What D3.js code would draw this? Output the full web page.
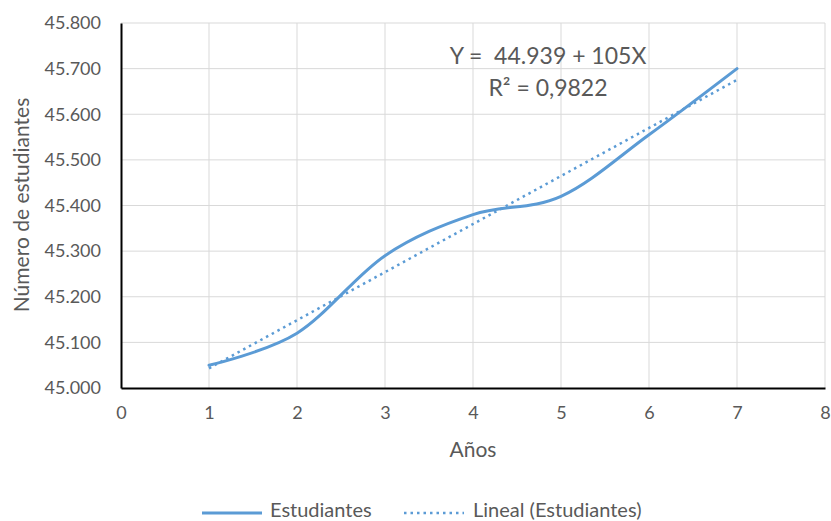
<!DOCTYPE html>
<html>
  <head>
    <meta charset="utf-8" />
    <title>Estudiantes</title>
    <script src="https://cdnjs.cloudflare.com/ajax/libs/d3/7.8.5/d3.min.js"></script>
    <style>
      body { margin: 0; background: #fff; }
      text { font-family: Lato, "Open Sans", sans-serif; fill: #595959; white-space: pre; }
    </style>
  </head>
  <body>
    <div id="main-container"></div>
    <script>

  // data
  var years = [1, 2, 3, 4, 5, 6, 7];
  var students = [45050, 45120, 45290, 45380, 45420, 45555, 45700];
  var xTicks = [0, 1, 2, 3, 4, 5, 6, 7, 8];
  var yTicks = [45000, 45100, 45200, 45300, 45400, 45500, 45600, 45700, 45800];
  var eqLines = ["Y =  44.939 + 105X", "R² = 0,9822"];
  var legendLabels = ["Estudiantes", "Lineal (Estudiantes)"];

  var width = 831, height = 521;
  var color = "#5B9BD5";

  var svg = d3.select('#main-container').append('svg')
    .attr('width', width)
    .attr('height', height);

  var xScale = d3.scaleLinear().domain([0, 8]).range([121, 825]);
  var yScale = d3.scaleLinear().domain([45000, 45800]).range([388, 23]);

  var fmt = function(v){ return d3.format(".3f")(v / 1000); };

  // gridlines
  svg.append('g').selectAll('line').data(yTicks.slice(1)).enter().append('line')
    .attr('x1', xScale(0)).attr('x2', xScale(8))
    .attr('y1', function(d){ return yScale(d); })
    .attr('y2', function(d){ return yScale(d); })
    .attr('stroke', '#d9d9d9').attr('stroke-width', 1);
  svg.append('g').selectAll('line').data(xTicks.slice(1)).enter().append('line')
    .attr('x1', function(d){ return xScale(d); })
    .attr('x2', function(d){ return xScale(d); })
    .attr('y1', yScale(45000)).attr('y2', yScale(45800))
    .attr('stroke', '#d9d9d9').attr('stroke-width', 1);

  // axes
  var xAxis = d3.axisBottom(xScale).tickValues(xTicks).tickSize(0).tickPadding(18);
  var yAxis = d3.axisLeft(yScale).tickValues(yTicks).tickSize(0).tickPadding(20).tickFormat(fmt);

  var gx = svg.append('g').attr('transform', 'translate(0,' + yScale(45000) + ')').call(xAxis);
  var gy = svg.append('g').attr('transform', 'translate(' + xScale(0) + ',0)').call(yAxis);
  [gx, gy].forEach(function(g){
    g.select('.domain').attr('stroke', '#000').attr('stroke-width', 2);
    g.selectAll('text').attr('font-size', 18).attr('fill', '#404040')
      .style('font-family', 'Lato, sans-serif');
  });

  // trend line (least squares)
  var n = years.length;
  var mx = d3.mean(years), my = d3.mean(students);
  var sxy = d3.sum(years, function(x, i){ return (x - mx) * (students[i] - my); });
  var sxx = d3.sum(years, function(x){ return (x - mx) * (x - mx); });
  var slope = sxy / sxx, intercept = my - slope * mx;
  var trend = [years[0], years[n - 1]].map(function(x){ return [x, intercept + slope * x]; });

  var line = d3.line()
    .x(function(d){ return xScale(d[0]); })
    .y(function(d){ return yScale(d[1]); });

  svg.append('path').datum(trend)
    .attr('d', line)
    .attr('fill', 'none').attr('stroke', color)
    .attr('stroke-width', 2.5).attr('stroke-dasharray', '2.5 4');

  svg.append('path').datum(years.map(function(x, i){ return [x, students[i]]; }))
    .attr('d', line.curve(d3.curveCatmullRom.alpha(0)))
    .attr('fill', 'none').attr('stroke', color)
    .attr('stroke-width', 3).attr('stroke-linecap', 'round');

  // equation
  svg.append('g').selectAll('text').data(eqLines).enter().append('text')
    .attr('x', 548).attr('y', function(d, i){ return 64 + i * 32; })
    .attr('text-anchor', 'middle').attr('font-size', 23)
    .text(function(d){ return d; });

  // axis titles
  svg.append('text').attr('x', 473).attr('y', 457)
    .attr('text-anchor', 'middle').attr('font-size', 21).text('Años');
  svg.append('text')
    .attr('transform', 'translate(29,205) rotate(-90)')
    .attr('text-anchor', 'middle').attr('font-size', 21).text('Número de estudiantes');

  // legend
  var lg = svg.append('g');
  lg.append('line').attr('x1', 202).attr('x2', 262).attr('y1', 513).attr('y2', 513)
    .attr('stroke', color).attr('stroke-width', 3);
  lg.append('text').attr('x', 270).attr('y', 517).attr('font-size', 20).text(legendLabels[0]);
  lg.append('line').attr('x1', 404).attr('x2', 464).attr('y1', 513).attr('y2', 513)
    .attr('stroke', color).attr('stroke-width', 2.5).attr('stroke-dasharray', '2.5 4');
  lg.append('text').attr('x', 473).attr('y', 517).attr('font-size', 20).text(legendLabels[1]);

</script>
  </body>
</html>
